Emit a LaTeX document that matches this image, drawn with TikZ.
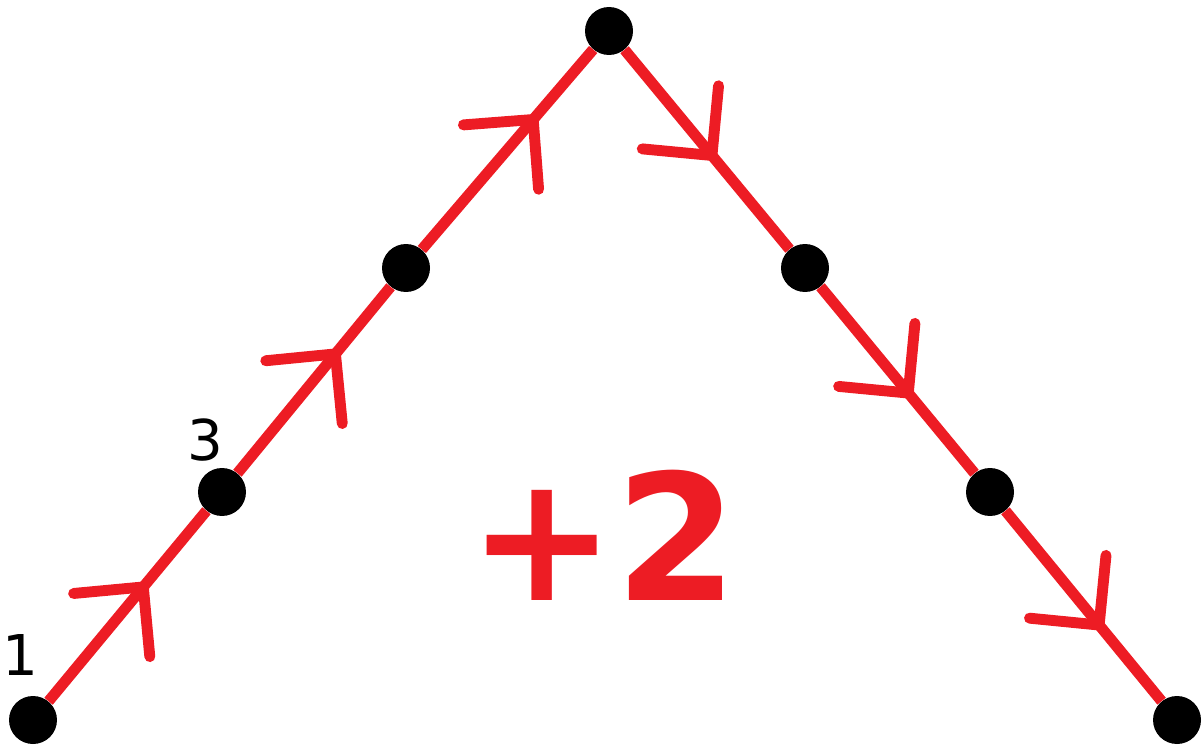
\documentclass[tikz,border=0pt]{standalone}
\usepackage{fontspec}
\setsansfont{DejaVu Sans}
\usepackage{xcolor}
\usetikzlibrary{decorations.markings}
\definecolor{pathred}{HTML}{ED1C24}

\begin{document}
\begin{tikzpicture}[
  x=0.02cm, y=-0.02cm,
  dot/.style  = {circle, fill=black, inner sep=0pt, minimum size=0.96cm},
  seg/.style  = {pathred, line width=6.2pt},
  flow/.style = {postaction={decorate, decoration={markings,
                 mark=at position #1 with {\draw[pathred, line width=6.2pt, line cap=round]
                   (-0.99cm,0.99cm) -- (0,0) -- (-0.99cm,-0.99cm);}}}},
  num/.style  = {font=\sffamily\fontsize{32}{32}\selectfont, inner sep=0pt},
  total/.style = {font=\sffamily\bfseries\fontsize{100}{100}\selectfont, text=pathred, inner sep=0pt},
]
  \useasboundingbox (0,0) rectangle (1202,746);

  \node[dot] (p1) at (33,720)   {};
  \node[dot] (p2) at (222,492)  {};
  \node[dot] (p3) at (406,268)  {};
  \node[dot] (p4) at (609,31)   {};
  \node[dot] (p5) at (805,268)  {};
  \node[dot] (p6) at (990,492)  {};
  \node[dot] (p7) at (1177,720) {};

  \draw[seg, flow=0.60] (p1) -- (p2);
  \draw[seg, flow=0.64] (p2) -- (p3);
  \draw[seg, flow=0.65] (p3) -- (p4);
  \draw[seg, flow=0.53] (p4) -- (p5);
  \draw[seg, flow=0.57] (p5) -- (p6);
  \draw[seg, flow=0.60] (p6) -- (p7);

  \node[num] (lab1) at (20,655) {1};
  \node[num] (lab3) at (205,440) {3};
  \node[total, anchor=base] (sum) at (603,600) {+2};
\end{tikzpicture}
\end{document}
